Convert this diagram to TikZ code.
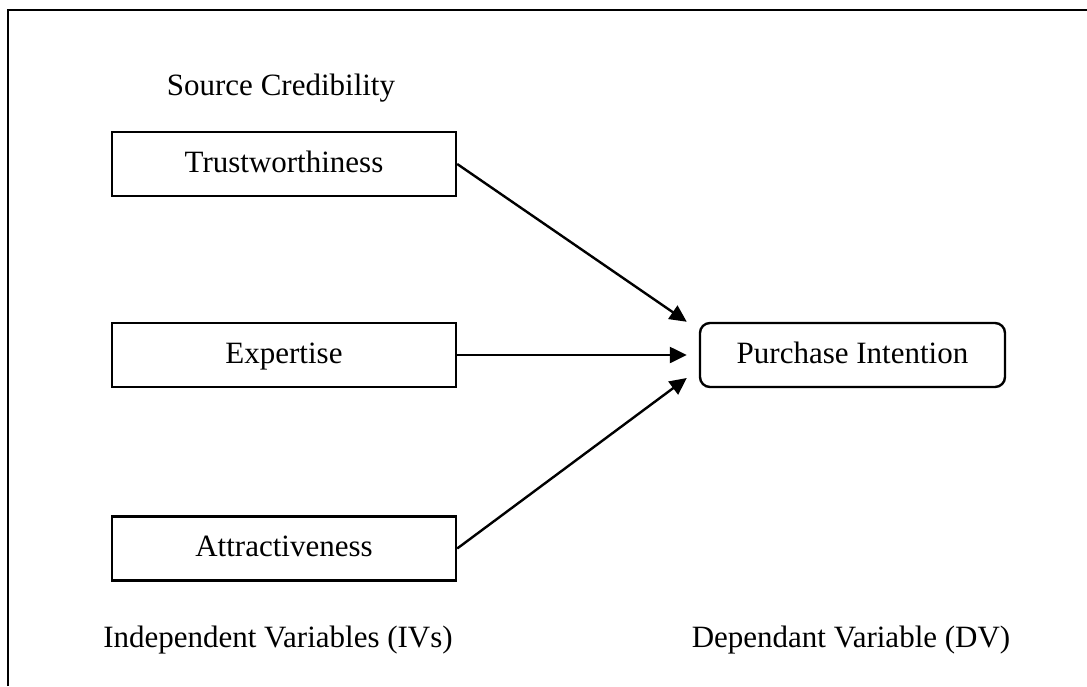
\documentclass[tikz,border=0pt]{standalone}
\usepackage{fontspec}
\setmainfont{Liberation Serif}
\usetikzlibrary{arrows.meta,positioning}
\tikzset{every path/.style={black,line width=1.2pt},
  every node/.style={font=\fontsize{15.5pt}{18pt}\selectfont, inner sep=0pt},
  ivbox/.style={draw, text height=8pt, text depth=0pt, minimum width=172pt, minimum height=32pt},
  dvbox/.style={draw, text height=8pt, text depth=0pt, rounded corners=5pt, minimum width=152.5pt, minimum height=32pt},
  link/.style={-{Triangle[length=8.5pt,width=8pt]}}}

\begin{document}
\begin{tikzpicture}[x=0.5pt,y=-0.5pt]
  \useasboundingbox (0,0) rectangle (1087,686);
  \draw[line width=1.3pt] (8,686) -- (8,10) -- (1087,10);
  % left column
  \node[anchor=base] (srccred) at (281,95) {Source Credibility};
  \node[ivbox] (trust) at (284,164) {Trustworthiness};
  \node[ivbox] (expert) at (284,355) {Expertise};
  \node[ivbox] (attract) at (284,548.5) {Attractiveness};
  % right column
  \node[dvbox] (purchase) at (852.5,355) {Purchase Intention};
  \coordinate (tipA) at ([xshift=-6pt]purchase.north west);
  \coordinate (tipB) at ([xshift=-6pt]purchase.west);
  \coordinate (tipC) at ([xshift=-6pt,yshift=-11.5pt]purchase.west);
  \draw[link] (trust.east) -- (tipA);
  \draw[link] (expert.east) -- (tipB);
  \draw[link] (attract.east) -- (tipC);
  \node[anchor=base] (ivlabel) at (278,647) {Independent Variables (IVs)};
  \node[anchor=base] (dvlabel) at (851,647) {Dependant Variable (DV)};
\end{tikzpicture}
\end{document}
